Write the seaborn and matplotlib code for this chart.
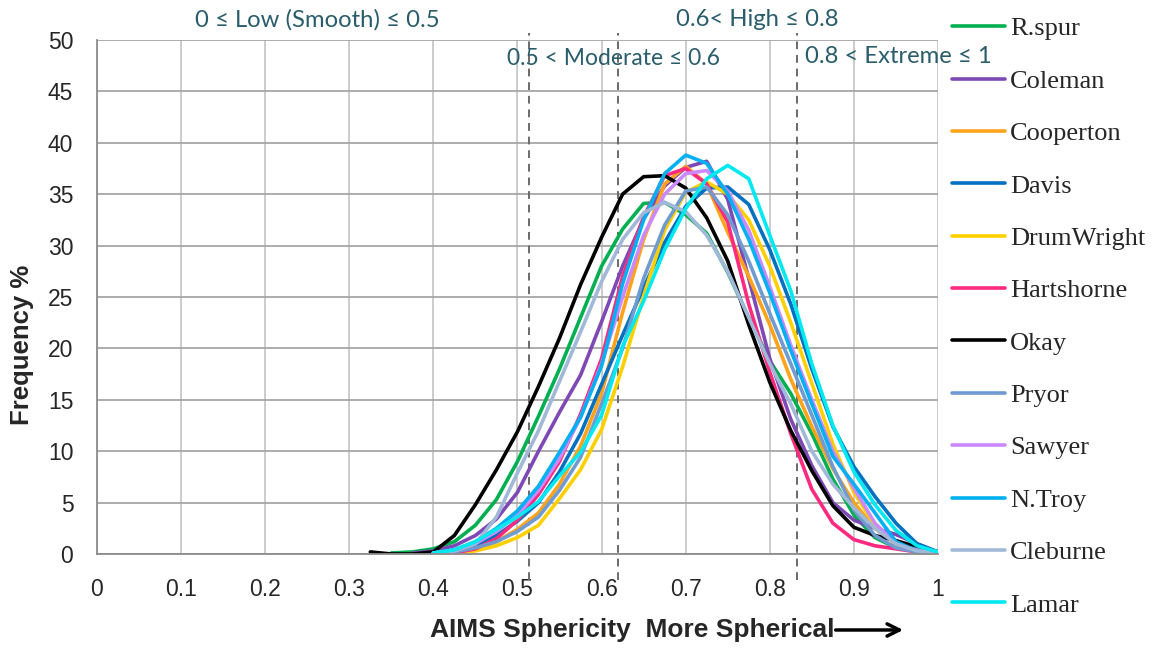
import numpy as np
import pandas as pd
import matplotlib
matplotlib.use("Agg")
import matplotlib.pyplot as plt
import seaborn as sns

# sphericity bins (x) and frequency % per quarry
x_vals = [0.325, 0.35, 0.375, 0.4, 0.425, 0.45, 0.475, 0.5, 0.525, 0.55, 0.575, 0.6, 0.625, 0.65,
          0.675, 0.7, 0.725, 0.75, 0.775, 0.8, 0.825, 0.85, 0.875, 0.9, 0.925, 0.95, 0.975, 1.0]

rspur = [None, 0.1, 0.2, 0.5, 1.2, 2.8, 5.3, 9.0, 13.4, 18.0, 23.0, 28.0, 31.6, 34.1,
         34.2, 33.0, 31.2, 27.4, 23.0, 18.8, 15.6, 11.7, 7.3, 3.8, 1.6, 0.6, 0.3, 0.1]
coleman = [None, None, 0.1, 0.3, 0.8, 1.8, 3.4, 6.0, 10.0, 13.8, 17.4, 22.6, 28.0, 32.6,
           35.8, 37.6, 38.2, 34.5, 26.8, 19.0, 13.1, 8.6, 5.0, 3.3, 2.5, 1.9, 1.0, 0.2]
cooperton = [None, None, None, None, 0.1, 0.4, 1.2, 2.4, 4.0, 6.8, 10.5, 15.6, 23.5, 30.6,
             36.0, 37.7, 36.0, 31.3, 27.0, 22.3, 17.0, 12.4, 8.3, 5.0, 2.5, 1.0, 0.4, 0.1]
davis = [None, None, None, 0.1, 0.3, 0.8, 1.8, 3.2, 5.0, 8.0, 11.7, 16.5, 21.3, 25.9,
         30.3, 33.8, 35.6, 35.7, 34.0, 29.6, 24.3, 18.0, 12.4, 8.5, 5.6, 3.0, 1.0, 0.2]
drumwright = [None, None, None, None, 0.1, 0.3, 0.8, 1.6, 2.8, 5.4, 8.2, 12.1, 18.2, 25.1,
              31.5, 35.2, 36.2, 35.0, 32.5, 28.0, 22.5, 16.6, 10.7, 6.0, 2.8, 0.9, 0.3, 0.1]
hartshorne = [None, None, None, None, 0.1, 0.5, 1.5, 3.3, 5.8, 9.0, 13.6, 19.0, 27.0, 32.8,
              36.8, 37.5, 36.0, 32.3, 24.3, 17.7, 11.7, 6.3, 3.0, 1.4, 0.8, 0.5, 0.2, 0.1]
okay = [0.2, 0.0, 0.0, 0.2, 1.8, 4.8, 8.2, 11.9, 16.3, 21.0, 26.2, 30.8, 35.0, 36.7,
        36.8, 35.6, 32.7, 28.5, 22.3, 16.7, 12.0, 8.1, 4.7, 2.6, 1.8, 1.3, 0.7, 0.1]
pryor = [None, None, None, 0.1, 0.2, 0.6, 1.2, 2.2, 3.6, 6.2, 9.4, 14.6, 20.0, 26.8,
         32.0, 35.3, 35.7, 33.0, 28.5, 23.4, 18.5, 13.5, 8.5, 4.3, 1.8, 0.6, 0.2, 0.1]
sawyer = [None, None, None, 0.1, 0.3, 1.0, 2.2, 3.8, 6.2, 9.3, 13.3, 18.5, 25.0, 31.0,
          35.0, 37.0, 37.3, 35.3, 31.5, 26.0, 20.3, 15.0, 10.0, 6.4, 3.0, 1.0, 0.4, 0.2]
ntroy = [None, None, None, 0.1, 0.4, 1.2, 2.5, 4.2, 6.6, 9.9, 13.3, 18.3, 26.3, 32.5,
         37.0, 38.8, 38.0, 35.0, 30.6, 25.4, 19.8, 14.6, 9.5, 6.8, 4.0, 1.2, 0.3, 0.1]
cleburne = [None, None, None, 0.1, 0.3, 1.0, 3.6, 7.9, 12.0, 16.8, 21.6, 26.5, 30.6, 33.2,
            34.2, 33.3, 31.0, 27.5, 23.0, 18.5, 14.6, 10.0, 6.8, 4.5, 2.5, 1.0, 0.3, 0.1]
lamar = [None, None, None, 0.1, 0.4, 1.2, 2.4, 3.6, 5.1, 7.6, 9.9, 13.5, 20.2, 24.6,
         29.6, 33.6, 36.5, 37.8, 36.5, 31.0, 25.6, 18.5, 12.5, 8.0, 4.8, 2.3, 0.8, 0.2]

sites = ['R.spur', 'Coleman', 'Cooperton', 'Davis', 'DrumWright', 'Hartshorne',
         'Okay', 'Pryor', 'Sawyer', 'N.Troy', 'Cleburne', 'Lamar']
series = [rspur, coleman, cooperton, davis, drumwright, hartshorne,
          okay, pryor, sawyer, ntroy, cleburne, lamar]
colors = ['#00B050', '#7E49B5', '#FFA31A', '#0070C0', '#FFD000', '#FF2A7F',
          '#000000', '#6F9BD1', '#CC88FF', '#00B0F0', '#A2B8D8', '#00E8F0']

# class boundaries (dashed lines)
bounds = [0.514, 0.619, 0.832]

rows = []
for name, ys in zip(sites, series):
    for xv, yv in zip(x_vals, ys):
        if yv is not None:
            rows.append({'x': xv, 'y': yv, 'site': name})
df = pd.DataFrame(rows)

sns.set_style("white")
plt.rcParams['font.family'] = ['Liberation Sans', 'DejaVu Sans']

fig = plt.figure(figsize=(11.6, 6.49), dpi=100)
ax = fig.add_axes([0.0836, 0.1464, 0.725, 0.792])

sns.lineplot(data=df, x='x', y='y', hue='site', hue_order=sites,
             palette=dict(zip(sites, colors)), linewidth=2.6, ax=ax,
             sort=True, estimator=None)
for ln in ax.get_lines():
    ln.set_solid_joinstyle('round')

ax.set_xlim(0, 1)
ax.set_ylim(0, 50)
ax.set_xticks(np.arange(0, 1.01, 0.1))
ax.set_xticklabels(['0', '0.1', '0.2', '0.3', '0.4', '0.5', '0.6', '0.7', '0.8', '0.9', '1'])
ax.set_yticks(range(0, 51, 5))
ax.tick_params(axis='both', length=0, labelsize=16.5, pad=17)
ax.grid(axis='y', color='#A6A6A6', linewidth=1.3)
ax.grid(axis='x', color='#C8C8C8', linewidth=1.3)
ax.set_axisbelow(True)
for s in ['top', 'right']:
    ax.spines[s].set_visible(False)
for s in ['left', 'bottom']:
    ax.spines[s].set_color('#8C8C8C')
    ax.spines[s].set_linewidth(1.3)

for b in bounds:
    ax.axvline(b, ymin=-0.05, ymax=1.014, color='#6A6A6A', linestyle=(0, (4, 3)),
               linewidth=1.4, clip_on=False, zorder=1)

ax.set_xlabel('')
ax.set_ylabel('Frequency %', fontsize=18.5, fontweight='bold')
ax.yaxis.set_label_coords(-0.075, 0.4066)

# x label with arrow
fig.text(0.3707, 0.0293, 'AIMS Sphericity  More Spherical', fontsize=19,
         fontweight='bold', ha='left', va='center')
ax.annotate('', xy=(0.781, 0.0293), xytext=(0.718, 0.0293),
            xycoords='figure fraction', textcoords='figure fraction',
            arrowprops=dict(arrowstyle='->', lw=2.5, color='black', mutation_scale=22))

# class labels
lab_color = '#2A5D6B'
lab_font = ['Lato', 'DejaVu Sans']
fig.text(0.2733, 0.9692, '0 \u2264 Low (Smooth) \u2264 0.5', color=lab_color,
         fontsize=17.2, family=lab_font, ha='center', va='center')
fig.text(0.6526, 0.9692, '0.6< High \u2264 0.8', color=lab_color,
         fontsize=17.2, family=lab_font, ha='center', va='center')
fig.text(0.5293, 0.9106, '0.5 < Moderate \u2264 0.6', color=lab_color,
         fontsize=16.5, family=lab_font, ha='center', va='center')
fig.text(0.7741, 0.9122, '0.8 < Extreme \u2264 1', color=lab_color,
         fontsize=17.2, family=lab_font, ha='center', va='center')

handles, labels = ax.get_legend_handles_labels()
ax.legend_.remove()
fig.legend(handles, labels, loc='upper left', bbox_to_anchor=(0.8207, 0.9738),
           frameon=False, borderpad=0, borderaxespad=0, handlelength=2.0,
           handletextpad=0.2, labelspacing=1.095,
           prop={'family': ['Liberation Serif', 'DejaVu Serif'], 'size': 19})

plt.savefig('out.png', dpi=100)
plt.close()
